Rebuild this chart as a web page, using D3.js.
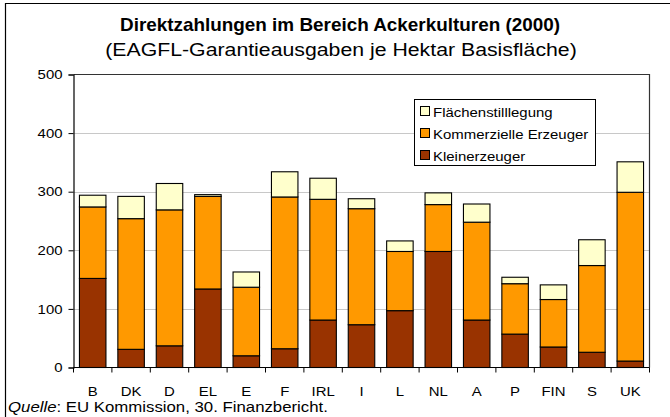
<!DOCTYPE html>
<html><head><meta charset="utf-8">
<script src="https://cdn.jsdelivr.net/npm/d3@7"></script>
<style>body{margin:0;background:#fff}svg{display:block;font-family:"Liberation Sans",Arial,sans-serif}</style>
</head><body><svg id="c" width="670" height="417"></svg>
<script>
const categories = ["B","DK","D","EL","E","F","IRL","I","L","NL","A","P","FIN","S","UK"];
const kleinerzeuger = [152,31,37,134,20,32,81,73,97,198,81,57,35,26,11];
const kommerzielle  = [122,223,232,158,117,259,206,198,101,80,167,86,81,148,288];
const stilllegung   = [20,38,45,3,26,43,36,17,18,20,31,11,25,44,52];
const seriesNames = ["Kleinerzeuger","Kommerzielle Erzeuger","Flächenstilllegung"];
const seriesColors = ["#993300","#FF9900","#FFFFCC"];
const yTicks = [0,100,200,300,400,500];

const SX = 1.15; // horizontal stretch of the text glyphs
const svg = d3.select("#c");
const m = {l:73.5, r:649.5, t:74.5, b:367.5};
const x = d3.scaleBand().domain(categories).range([m.l, m.r]).paddingInner(0.31).paddingOuter(0.155);
const xb = d3.scaleBand().domain(categories).range([m.l, m.r]);
const y = d3.scaleLinear().domain([0,500]).range([m.b, m.t]);

function stext(parent, tx, ty, size, anchor, sx){
  return parent.append("text").attr("transform",`translate(${tx},${ty}) scale(${sx||SX},1)`)
    .attr("text-anchor",anchor||"start").attr("font-size",size);
}

// outer frame
svg.append("path").attr("d","M5.5,417 V3.5 H670").attr("fill","none").attr("stroke","#000").attr("stroke-width",1.2);

// titles
stext(svg,340,31,18,"middle",1.05).attr("font-weight","bold").text("Direktzahlungen im Bereich Ackerkulturen (2000)");
stext(svg,341,56,18.5,"middle").text("(EAGFL-Garantieausgaben je Hektar Basisfläche)");

// gridlines
svg.append("g").selectAll("line").data(yTicks.filter(d=>d>0&&d<500)).join("line")
  .attr("x1",m.l).attr("x2",m.r).attr("y1",d=>Math.round(y(d))+0.5).attr("y2",d=>Math.round(y(d))+0.5)
  .attr("stroke","#c8c8c8").attr("stroke-width",1.2);

// plot border top/right
svg.append("path").attr("d",`M${m.l},${m.t} H${m.r} V${m.b}`).attr("fill","none").attr("stroke","#333").attr("stroke-width",1.2);

// stacked bars
const rows = categories.map((c,i)=>({cat:c, Kleinerzeuger:kleinerzeuger[i], "Kommerzielle Erzeuger":kommerzielle[i], "Flächenstilllegung":stilllegung[i]}));
const stack = d3.stack().keys(seriesNames)(rows);
svg.append("g").selectAll("g").data(stack).join("g")
  .attr("fill",(d,i)=>seriesColors[i])
  .selectAll("rect").data(d=>d).join("rect")
  .attr("x",d=>x(d.data.cat)).attr("width",x.bandwidth())
  .attr("y",d=>y(d[1])).attr("height",d=>y(d[0])-y(d[1]))
  .attr("stroke","#000").attr("stroke-width",1.1);

// y axis
const ya = svg.append("g").attr("transform",`translate(${m.l},0)`)
  .call(d3.axisLeft(y).tickValues(yTicks).tickSize(5).tickPadding(6));
ya.select(".domain").attr("stroke","#000").attr("stroke-width",1.2);
ya.selectAll(".tick line").attr("stroke","#000");
ya.selectAll("text").attr("font-size",13).attr("fill","#000")
  .attr("font-family","Liberation Sans, Arial, sans-serif")
  .attr("x",-11/SX).attr("transform",`scale(${SX},1)`);

// x axis with ticks between categories
const xa = svg.append("g").attr("transform",`translate(0,${m.b})`);
xa.append("line").attr("x1",m.l).attr("x2",m.r).attr("stroke","#000").attr("stroke-width",1.2);
xa.selectAll("line.t").data(categories.concat(["_end"])).join("line").attr("class","t")
  .attr("x1",(d,i)=> i<categories.length ? xb(d) : m.r).attr("x2",(d,i)=> i<categories.length ? xb(d) : m.r)
  .attr("y1",0).attr("y2",5).attr("stroke","#000");
categories.forEach(c=>{ stext(xa, xb(c)+xb.bandwidth()/2, 28, 13, "middle").text(c); });

// legend
const lg = svg.append("g");
lg.append("rect").attr("x",414.5).attr("y",99.5).attr("width",181).attr("height",66).attr("fill","#fff").attr("stroke","#000");
const legOrder = [2,1,0];
legOrder.forEach((si,k)=>{
  const yy = 111.5 + k*22;
  lg.append("rect").attr("x",420.5).attr("y",yy-5).attr("width",9).attr("height",9).attr("fill",seriesColors[si]).attr("stroke","#000");
  stext(lg,433,yy+5,13,"start").text(seriesNames[si]);
});

// source
const src = stext(svg,8,412,15,"start",1.12);
src.append("tspan").attr("font-style","italic").text("Quelle");
src.append("tspan").text(": EU Kommission, 30. Finanzbericht.");
</script></body></html>
